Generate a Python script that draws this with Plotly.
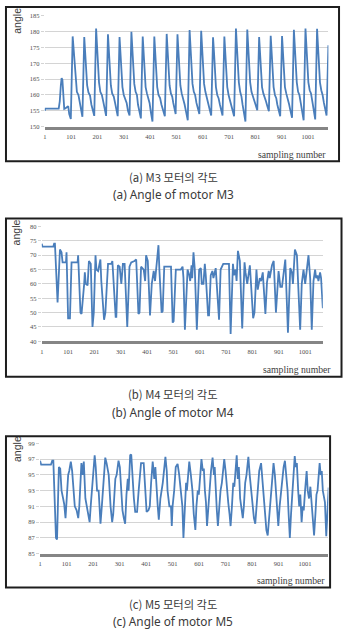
import plotly.graph_objects as go

# ---------------- data ----------------
m3_x = [1, 3, 54, 58, 62, 65, 68, 71, 75, 80, 86, 90, 94, 100,
        107, 111, 114, 118, 123, 129, 134, 139, 144,
        151, 155, 158, 162, 167, 173, 178, 183, 189,
        196, 200, 203, 207, 212, 218, 223, 228, 234,
        241, 245, 248, 252, 257, 263, 268, 273, 278,
        285, 289, 292, 296, 301, 307, 312, 317, 323,
        330, 334, 337, 341, 346, 351, 355, 360, 366,
        373, 377, 380, 384, 389, 395, 399, 404, 410,
        417, 421, 424, 428, 433, 439, 444, 450, 457,
        464, 468, 471, 475, 480, 485, 489, 493, 498,
        505, 509, 512, 516, 521, 527, 532, 538, 544,
        551, 555, 558, 562, 567, 572, 577, 582, 588,
        595, 599, 602, 606, 611, 616, 621, 627, 633,
        640, 644, 647, 651, 656, 661, 666, 671, 676,
        683, 687, 690, 694, 699, 704, 709, 714, 720,
        727, 731, 734, 738, 743, 748, 752, 757, 763,
        770, 774, 777, 781, 786, 792, 797, 802, 808,
        815, 819, 822, 826, 831, 836, 841, 846, 852,
        859, 863, 866, 870, 875, 880, 884, 889, 895,
        902, 906, 909, 913, 918, 924, 929, 934, 940,
        947, 951, 954, 958, 963, 968, 973, 978, 984,
        991, 995, 998, 1002, 1007, 1012, 1017, 1022, 1028,
        1035, 1039, 1042, 1046, 1051, 1056, 1061, 1066, 1071,
        1078]
m3_y = [155, 155.7, 155.7, 158, 163, 165.3, 164.8, 160, 155.6, 155.8, 156.3, 156.5, 154, 152.4,
        178.5, 174, 168, 163.5, 161, 160, 157.5, 155.5, 153.1,
        178.3, 173, 167, 163, 160.8, 159.8, 157, 155, 153.4,
        181, 175, 169, 164, 161, 160, 158, 155.5, 153.4,
        179.2, 173.5, 167.5, 163, 160.5, 159.5, 157.5, 155.5, 153.3,
        178.3, 173, 167, 162.5, 160, 158.5, 157.5, 155, 153.5,
        180, 174, 168, 163.5, 161, 160, 157, 155.2, 152.6,
        178.5, 173, 167, 162.5, 160.5, 159, 157.5, 154.5, 151.6,
        178.5, 173, 167, 162.5, 160, 159, 157, 155, 153.3,
        179.3, 174, 168, 163, 160.5, 159.5, 157.5, 155.5, 154,
        179.2, 173.5, 167.5, 163, 160.5, 159, 157, 154.5, 152,
        180.5, 174.5, 168, 163.5, 161, 160, 157.5, 156, 154,
        180.3, 174.5, 168, 163.5, 161, 159.5, 157.5, 155.5, 153.5,
        178.2, 173, 167, 162.5, 160, 159, 157, 155.5, 153.5,
        178.5, 173, 167, 162.5, 160, 158.5, 157, 155, 153.3,
        181, 175, 168.5, 164, 161, 159.5, 157, 154.5, 151.6,
        180.7, 175, 168.5, 164, 161, 159.5, 158, 156.5, 155.2,
        178.3, 173, 167, 162.5, 160.5, 159.5, 158, 156.5, 154.9,
        178.7, 173, 167, 162.5, 160, 159, 157, 155, 153.3,
        178.6, 173, 167, 162.5, 160.5, 159, 157, 155, 152.8,
        180.6, 175, 168.5, 164, 161, 160, 157.5, 155, 152,
        181, 175, 168.5, 164, 161.5, 160.5, 158, 155.5, 152.3,
        180.9, 175, 168.5, 164, 161.5, 160, 157.5, 155.5, 153.5,
        175.7]

m4_x = [1, 3.5, 45, 48, 51, 61, 70, 76, 80, 93, 95, 101, 108, 114, 137, 139, 148, 152,
        162, 164.5, 168, 175, 180, 187, 193.5, 198.5, 205, 208.5, 215, 223.6, 227,
        237.5, 242.5, 252.6, 265, 269, 281.5, 284, 290, 296.6, 303, 309, 315.5,
        325.5, 334, 340.6, 353, 359.5, 368, 372, 378, 388, 393.5, 397, 403.5,
        412, 418.6, 426, 431, 444, 447.5, 456, 460, 466, 485, 491.6, 498, 501.6,
        510, 529, 535.6, 539, 544.4, 554.5, 561, 564.5, 569.6, 572, 577, 582,
        589.7, 598.5, 604.8, 608.5, 614.8, 620, 623.6, 632.4, 636, 642.5, 648.8,
        652.6, 661.4, 665, 674, 680, 690, 711.7, 718, 726.8, 730.6, 736.8, 740.6,
        745.7, 753, 762, 770.8, 774.6, 781, 791, 796, 803.5, 808.5, 816, 821,
        828.7, 833.7, 840, 850, 856, 862.6, 866.4, 875, 881.5, 890, 900, 906.7,
        913, 925.5, 935.6, 944.4, 950.7, 954.5, 962, 969.6, 982, 988, 994.7,
        1001, 1013.6, 1020, 1026, 1032.5, 1038.7, 1042.5, 1047.5, 1051.3,
        1057.6, 1061.4, 1068]
m4_y = [74, 73, 73, 74, 74, 53.5, 72, 71, 67.5, 67.5, 71, 48, 48, 67.5, 67.5, 70, 50, 49.5,
        60, 64, 60, 59.5, 68, 67, 45, 50, 70, 65, 64.5, 68.5, 61,
        47.5, 50, 67, 67, 68, 48.5, 48.5, 66.5, 66, 60, 67, 67,
        45, 66, 67.5, 68, 68.5, 49.5, 50, 66, 65, 61, 70, 68,
        49, 60, 64.5, 61, 73.5, 65, 50, 50.5, 66, 66, 66, 46.5, 47,
        65, 65, 66, 62, 44, 65, 63, 61, 66.5, 62, 71, 65,
        44, 65, 65.5, 60, 60, 67, 63, 49, 49, 63, 64.5,
        62, 65.5, 60, 47.5, 65, 67, 67, 42.5, 67, 63, 65, 61,
        71.5, 68, 44.5, 67.5, 64, 60, 66.5, 60, 48, 50, 65, 58,
        62, 61, 64, 49.5, 60.5, 64.5, 62, 66.5, 68, 50, 64.5, 59,
        59, 68.5, 43, 65.5, 64, 60, 72, 70, 44, 60, 65,
        60, 70, 62, 44, 61, 65, 62, 63, 61,
        64, 62, 51.5]

m5_x = [1, 5, 42, 47, 51, 61, 65, 72, 77, 82, 88, 92, 97, 101, 107, 111, 117, 122, 126,
        132, 139, 145, 149, 154, 157, 162, 166, 172, 177, 185, 188, 192, 201, 207, 211,
        216, 222, 227, 229, 234, 240, 247, 252, 260, 267, 273, 277, 285, 290, 297,
        302, 307, 312, 317, 322, 327, 332, 335, 341, 345, 351, 355, 360, 367, 373,
        382, 392, 398, 403, 410, 415, 420, 426, 432, 436, 445, 449, 455, 464, 474,
        479, 482, 489, 495, 498, 501, 507, 513, 520, 526, 532, 538, 542, 548, 552,
        555, 564, 570, 576, 581, 587, 591, 596, 600, 605, 610, 615, 619, 623, 627,
        631, 636, 641, 646, 652, 657, 660, 664, 668, 672, 677, 682, 687, 691, 696,
        701, 706, 711, 716, 720, 725, 730, 734, 739, 743, 747, 751, 756, 761, 766,
        770, 775, 780, 787, 792, 797, 803, 808, 813, 818, 823, 828, 835, 840, 845,
        850, 855, 860, 865, 870, 875, 882, 887, 891, 896, 900, 905, 910, 915, 920,
        925, 930, 935, 939, 943.5, 948, 953, 957, 962, 966, 970, 975, 979, 983,
        988, 992, 996, 1001, 1007, 1011, 1016, 1021, 1026, 1030, 1035, 1040, 1044,
        1048, 1052, 1056, 1060, 1064, 1068, 1072, 1076, 1081, 1086, 1090]
m5_y = [96.8, 96.3, 96.3, 96.8, 96.8, 87, 86.8, 96, 95.8, 93, 92, 91.3, 89.5, 91.5, 95, 95.5, 96.7, 95.5, 93,
        91, 90.5, 89.5, 91, 94, 96.5, 95, 96.7, 92, 91, 89.5, 89, 91, 95.5, 97.5, 96,
        93, 93, 90, 88.8, 91, 94, 97.2, 96.5, 95, 91, 89, 90, 94.5, 95, 96.8,
        96, 93, 90.5, 89.5, 88.8, 92.5, 94.5, 93, 97.5, 97.6, 93.5, 92, 90.3, 90.3, 93,
        96.5, 96.5, 93, 90.3, 90.5, 91, 94, 96.7, 94.5, 96, 91, 89.3, 92, 94, 97.3,
        95.5, 93, 91, 91, 88.5, 91, 93, 96, 96.4, 95, 93, 91, 87, 91, 94,
        93, 96.7, 95, 93, 90, 88, 91, 93, 92.5, 95.5, 97, 95.5, 95.8, 93, 91.5,
        88.5, 91, 93, 95.5, 97.2, 95, 96, 92, 90.5, 88.5, 91, 93, 94, 95.5, 97,
        95.5, 93, 91.5, 90, 88.5, 91, 94, 93.5, 96, 97.5, 94.5, 96, 92, 91, 89.5,
        91, 94, 95, 97.3, 95, 93, 91, 89.5, 88.8, 91, 93, 95.5, 96.5, 94.5, 92,
        89.5, 88, 87.3, 89.5, 91.5, 94.5, 96.5, 95, 93, 90, 88.5, 91, 93, 94, 96,
        96.8, 95, 93, 90, 87, 90, 93, 95, 97.4, 96, 96.5, 93, 91, 92.5,
        89, 91, 90.5, 93, 95.5, 93, 92, 93.5, 91, 89, 87.3, 90, 92.5,
        93, 95, 96.5, 95, 95.5, 93, 92, 91.5, 87.2, 90, 93.4]

x_ticks = [1, 101, 201, 301, 401, 501, 601, 701, 801, 901, 1001]
m3_yticks = [150, 155, 160, 165, 170, 175, 180, 185]
m4_yticks = [40, 45, 50, 55, 60, 65, 70, 75, 80]
m5_yticks = [85, 87, 89, 91, 93, 95, 97, 99]

captions = [("(a) M3 모터의 각도", "(a) Angle of motor M3"),
            ("(b) M4 모터의 각도", "(b) Angle of motor M4"),
            ("(c) M5 모터의 각도", "(c) Angle of motor M5")]

# ---------------- layout helpers ----------------
W, H = 344, 638
def px(x):
    return x / W
def py(y):
    return 1 - y / H

LINE = "#4a7ebb"
GRID = "#d4d4d4"
TICKFONT = dict(family="Liberation Serif", size=6.5, color="#4d4d4d")

panels = [
    dict(xl=43, xr=328.3, yt=12, yb=124, xr_=[1, 1078], yr=[150, 185], yt_=m3_yticks,
         box=(4, 3, 339, 159), ang=(15, 17), samp=(328, 152), cap=(175, 192.5)),
    dict(xl=40, xr=322.7, yt=225, yb=341, xr_=[1, 1068], yr=[40, 80], yt_=m4_yticks,
         box=(4, 217, 341.5, 377), ang=(15, 231), samp=(333, 370), cap=(394.5, 412.5)),
    dict(xl=38.3, xr=328.3, yt=444.3, yb=555.7, xr_=[1, 1089], yr=[85, 99], yt_=m5_yticks,
         box=(4, 437, 330, 590), ang=(15, 450), samp=(327, 583), cap=(606.3, 623.5)),
]
series = [(m3_x, m3_y), (m4_x, m4_y), (m5_x, m5_y)]

fig = go.Figure()
layout = dict(width=W, height=H, margin=dict(l=0, r=0, t=0, b=0),
              paper_bgcolor="white", plot_bgcolor="white", showlegend=False)
shapes, annotations = [], []
cap_fonts = [dict(family="Noto Sans CJK KR", size=11.3, color="#3a3a3a"),
             dict(family="Noto Sans", size=11.8, color="#3a3a3a")]

for i, (p, (sx, sy)) in enumerate(zip(panels, series)):
    n = "" if i == 0 else str(i + 1)
    fig.add_trace(go.Scatter(x=sx, y=sy, mode="lines", xaxis="x" + n, yaxis="y" + n,
                             line=dict(color=LINE, width=1.8), hoverinfo="skip"))
    layout["xaxis" + n] = dict(domain=[px(p["xl"]), px(p["xr"])], range=p["xr_"],
                               anchor="y" + n, tickvals=x_ticks, ticktext=[str(v) for v in x_ticks],
                               showgrid=False, zeroline=False, showline=True,
                               linecolor="#858585", linewidth=3, ticks="outside",
                               ticklen=2, tickcolor="rgba(0,0,0,0)", tickfont=TICKFONT)
    layout["yaxis" + n] = dict(domain=[py(p["yb"]), py(p["yt"])], range=p["yr"],
                               anchor="x" + n, tickvals=p["yt_"], showgrid=True,
                               gridcolor=GRID, gridwidth=1, zeroline=False, showline=False,
                               ticks="outside", ticklen=3, tickcolor=GRID, tickfont=TICKFONT)
    x0, y0, x1, y1 = p["box"]
    shapes.append(dict(type="rect", xref="paper", yref="paper", x0=px(x0), x1=px(x1),
                       y0=py(y1), y1=py(y0), line=dict(color="#1e1e1e", width=2)))
    annotations.append(dict(text="angle", xref="paper", yref="paper", x=px(p["ang"][0]),
                            y=py(p["ang"][1]), textangle=-90, showarrow=False,
                            xanchor="center", yanchor="middle",
                            font=dict(family="Liberation Sans", size=10.5, color="#404040")))
    annotations.append(dict(text="sampling number", xref="paper", yref="paper",
                            x=px(p["samp"][0]), y=py(p["samp"][1]), showarrow=False,
                            xanchor="right", yanchor="middle",
                            font=dict(family="Liberation Serif", size=9.7, color="#404040")))
    for txt, yy, fnt in zip(captions[i], p["cap"], cap_fonts):
        annotations.append(dict(text=txt, xref="paper", yref="paper", x=px(172), y=py(yy),
                                showarrow=False, xanchor="center", yanchor="middle",
                                font=fnt))

layout["shapes"] = shapes
layout["annotations"] = annotations
fig.update_layout(**layout)
fig.write_html("out.html")
